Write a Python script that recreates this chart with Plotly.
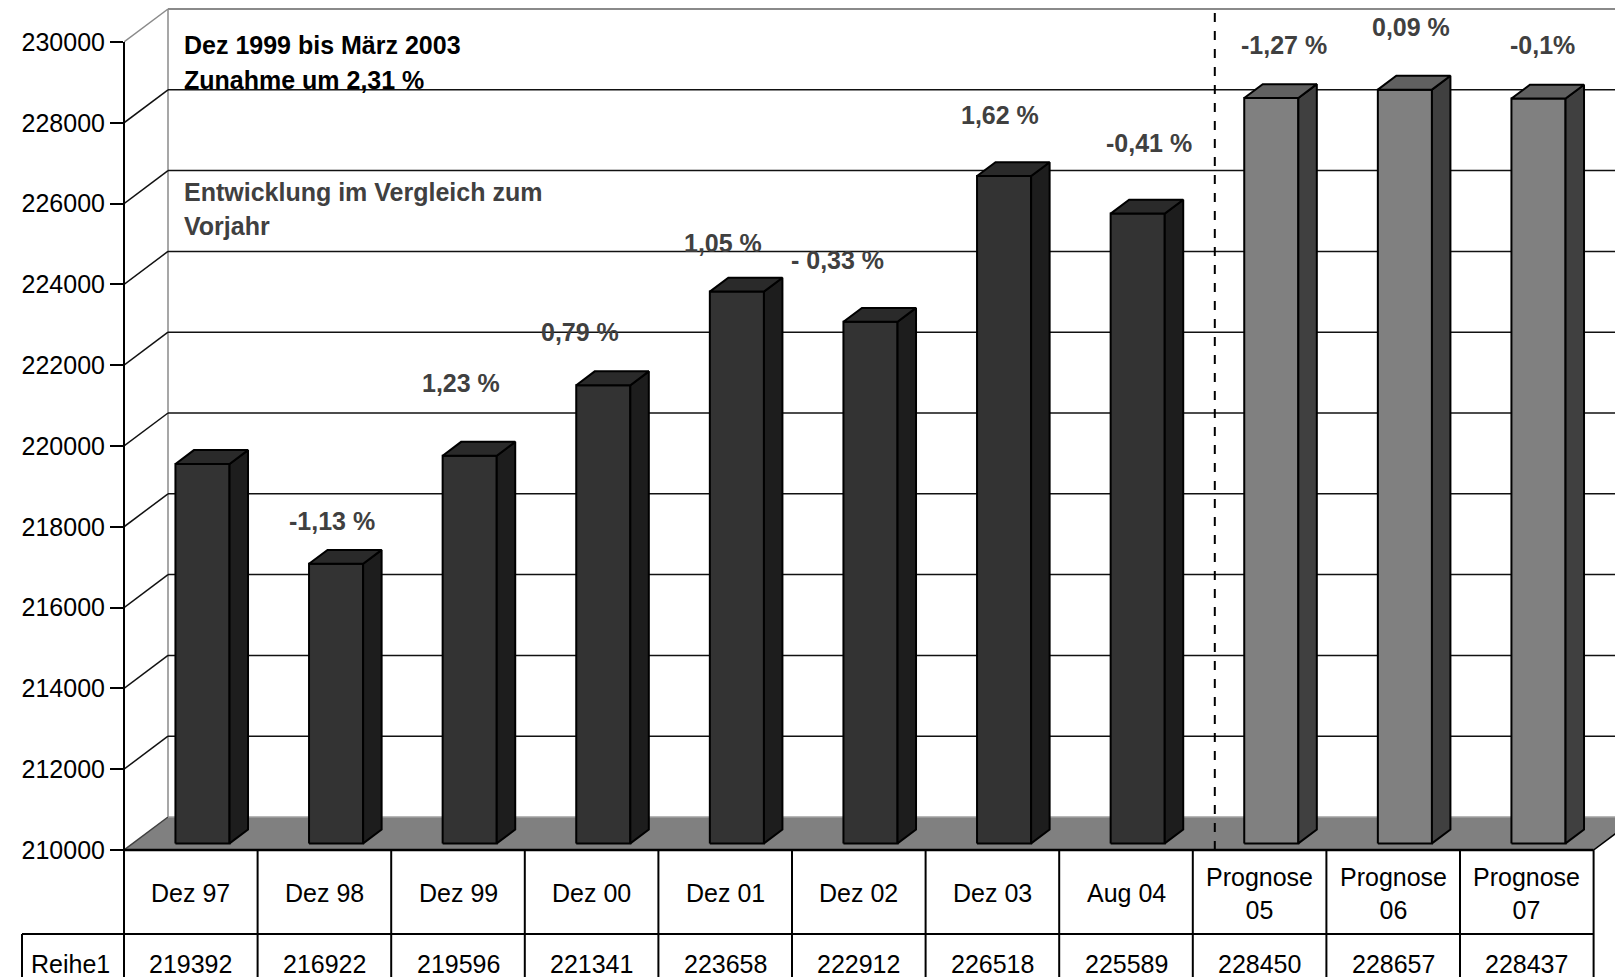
import plotly.graph_objects as go

# Data
categories = ["Dez 97", "Dez 98", "Dez 99", "Dez 00", "Dez 01", "Dez 02", "Dez 03", "Aug 04",
              "Prognose<br>05", "Prognose<br>06", "Prognose<br>07"]
values = [219392, 216922, 219596, 221341, 223658, 222912, 226518, 225589, 228450, 228657, 228437]
is_forecast = [False] * 8 + [True] * 3
series_name = "Reihe1"
changes = ["", "-1,13 %", "1,23 %", "0,79 %", "1,05 %", "- 0,33 %", "1,62 %", "-0,41 %",
           "-1,27 %", "0,09 %", "-0,1%"]
y_ticks = list(range(210000, 230001, 2000))

# where the change labels sit (category units / axis values)
change_x = [None, 1.56, 2.52, 3.41, 4.48, 5.34, 6.56, 7.67, 8.68, 9.63, 10.62]
change_y = [None, 218140, 221560, 222820, 225030, 224600, 228190, 227500, 229930, 230370, 229930]

FONT = "Arial, Liberation Sans, sans-serif"
FS = 25

# Page geometry (the page body adds an 8px offset around the figure)
OFF = 8
PAGE_W, PAGE_H = 1623, 977
W, H = PAGE_W - OFF, PAGE_H - OFF
PLOT_L, PLOT_T, PLOT_B = 124, 8, 850      # page pixels
ML, MR, MT, MB = PLOT_L - OFF, 0, PLOT_T - OFF, PAGE_H - PLOT_B
PW, PH = W - ML - MR, H - MT - MB
COL_PX = 133.6               # pixels per category
VAL_PX = 808 / 20000         # pixels per value unit
X_MAX = PW / COL_PX
Y0, Y1 = y_ticks[0], y_ticks[-1]
Y_TOP = Y0 + PH / VAL_PX

# 3D depth offsets (axis units)
DX = 44 / COL_PX
DV = 33 / VAL_PX


def py_paper(py):
  # page pixel row -> paper y
  return (PLOT_B - py) / PH


def px_paper(px):
  return (px - PLOT_L) / PW


fig = go.Figure()

# Bars drawn as filled faces
f1, f2 = 0.2, 0.62
ddx, ddv = (f2 - f1) * DX, (f2 - f1) * DV
faces = {}
for i, v in enumerate(values):
  x0 = i + 0.385
  x1 = i + 0.79
  base = Y0 + f1 * DV
  top = v + f1 * DV
  key = "fc" if is_forecast[i] else "hist"
  polys = faces.setdefault(key, {"front": [], "side": [], "top": []})
  polys["front"].append([(x0, base), (x1, base), (x1, top), (x0, top), (x0, base)])
  polys["side"].append([(x1, base), (x1 + ddx, base + ddv), (x1 + ddx, top + ddv), (x1, top), (x1, base)])
  polys["top"].append([(x0, top), (x1, top), (x1 + ddx, top + ddv), (x0 + ddx, top + ddv), (x0, top)])

colors = {
  "hist": {"front": "#333333", "side": "#1d1d1d", "top": "#2a2a2a"},
  "fc": {"front": "#808080", "side": "#404040", "top": "#606060"},
}
for key, polys in faces.items():
  for part in ["front", "side", "top"]:
    xs, ys = [], []
    for poly in polys[part]:
      xs += [p[0] for p in poly] + [None]
      ys += [p[1] for p in poly] + [None]
    fig.add_trace(go.Scatter(
      x=xs, y=ys, mode="lines", fill="toself",
      fillcolor=colors[key][part],
      line=dict(color="black", width=2),
      hoverinfo="skip", showlegend=False))

shapes = []
# Floor
shapes.append(dict(type="path", xref="x", yref="y", layer="below",
                   path=f"M 0,{Y0} L 11,{Y0} L {11 + DX},{Y0 + DV} L {DX},{Y0 + DV} Z",
                   fillcolor="#808080", line=dict(width=0)))
shapes.append(dict(type="line", xref="x", yref="y", layer="below", x0=0, y0=Y0, x1=DX, y1=Y0 + DV,
                   line=dict(color="#404040", width=1.5)))
shapes.append(dict(type="line", xref="x", yref="y", layer="below", x0=DX, y0=Y0 + DV, x1=X_MAX + 1, y1=Y0 + DV,
                   line=dict(color="#a0a0a0", width=1.5)))
shapes.append(dict(type="line", xref="x", yref="y", layer="below", x0=11, y0=Y0, x1=11 + DX, y1=Y0 + DV,
                   line=dict(color="black", width=1.5)))
# Walls
shapes.append(dict(type="line", xref="x", yref="y", layer="below", x0=DX, y0=Y0 + DV, x1=DX, y1=Y1 + DV,
                   line=dict(color="#8a8a8a", width=1.5)))
shapes.append(dict(type="line", xref="x", yref="y", layer="below", x0=DX, y0=Y1 + DV, x1=X_MAX + 1, y1=Y1 + DV,
                   line=dict(color="#8a8a8a", width=2)))
shapes.append(dict(type="line", xref="x", yref="y", layer="below", x0=0, y0=Y1, x1=DX, y1=Y1 + DV,
                   line=dict(color="#8a8a8a", width=1.5)))
for v in y_ticks[1:-1]:
  shapes.append(dict(type="line", xref="x", yref="y", layer="below", x0=0, y0=v, x1=DX, y1=v + DV,
                     line=dict(color="#111111", width=1.5)))
  shapes.append(dict(type="line", xref="x", yref="y", layer="below", x0=DX, y0=v + DV, x1=X_MAX + 1, y1=v + DV,
                     line=dict(color="#111111", width=1.5)))
# Forecast separator
sep_x = 8 + 0.5 * DX
shapes.append(dict(type="line", xref="x", yref="y", layer="below", x0=sep_x, y0=Y0, x1=sep_x, y1=Y_TOP,
                   line=dict(color="black", width=2, dash="dash")))

# Y axis line (from 210000 to 230000, then down through the table)
y_top_paper = (Y1 - Y0) / (Y_TOP - Y0)
bottom = py_paper(PAGE_H + 5)
shapes.append(dict(type="line", xref="paper", yref="paper", x0=0, y0=bottom, x1=0, y1=y_top_paper,
                   line=dict(color="black", width=2)))

# Data table grid
row_line = py_paper(934)
left_cell = px_paper(22)
shapes.append(dict(type="line", xref="x", yref="paper", x0=0, y0=0, x1=11, y1=0,
                   line=dict(color="black", width=2.5)))
shapes.append(dict(type="line", xref="x", yref="paper", x0=0, y0=row_line, x1=11, y1=row_line,
                   line=dict(color="black", width=2)))
shapes.append(dict(type="line", xref="paper", yref="paper", x0=left_cell, y0=row_line, x1=0, y1=row_line,
                   line=dict(color="black", width=2)))
shapes.append(dict(type="line", xref="paper", yref="paper", x0=left_cell, y0=row_line, x1=left_cell, y1=bottom,
                   line=dict(color="black", width=2)))
for i in range(1, len(categories) + 1):
  shapes.append(dict(type="line", xref="x", yref="paper", x0=i, y0=0, x1=i, y1=bottom,
                     line=dict(color="black", width=2)))

annotations = []
for i, c in enumerate(categories):
  annotations.append(dict(x=i + 0.5, y=py_paper(893), xref="x", yref="paper", text=c,
                          showarrow=False, font=dict(size=FS, color="black", family=FONT),
                          xanchor="center", yanchor="middle"))
  annotations.append(dict(x=i + 0.5, y=py_paper(964), xref="x", yref="paper", text=str(values[i]),
                          showarrow=False, font=dict(size=FS, color="black", family=FONT),
                          xanchor="center", yanchor="middle"))
annotations.append(dict(x=px_paper(70), y=py_paper(964), xref="paper", yref="paper", text=series_name,
                        showarrow=False, font=dict(size=FS, color="black", family=FONT),
                        xanchor="center", yanchor="middle"))

for i, t in enumerate(changes):
  if not t:
    continue
  annotations.append(dict(x=change_x[i], y=change_y[i], xref="x", yref="y", text=f"<b>{t}</b>",
                          showarrow=False, font=dict(size=FS, color="#404040", family=FONT),
                          xanchor="center", yanchor="middle"))

notes = [("Dez 1999 bis März 2003", 45, "black"), ("Zunahme um 2,31 %", 80, "black"),
         ("Entwicklung im Vergleich zum", 192, "#404040"), ("Vorjahr", 226, "#404040")]
for text, py, col in notes:
  annotations.append(dict(x=px_paper(182), y=py_paper(py), xref="paper", yref="paper",
                          text=f"<b>{text}</b>", showarrow=False,
                          font=dict(size=FS, color=col, family=FONT),
                          xanchor="left", yanchor="middle"))

fig.update_layout(
  width=W, height=H,
  margin=dict(l=ML, r=MR, t=MT, b=MB, pad=0),
  paper_bgcolor="white", plot_bgcolor="white",
  shapes=shapes, annotations=annotations,
  showlegend=False,
  font=dict(family=FONT, size=FS, color="black"),
  xaxis=dict(range=[0, X_MAX], visible=False, fixedrange=True),
  yaxis=dict(range=[Y0, Y_TOP], tickvals=y_ticks, tickformat="d",
             ticks="outside", ticklen=13, tickwidth=1.5, tickcolor="black",
             showgrid=False, zeroline=False, showline=False,
             tickfont=dict(size=FS, color="black", family=FONT), fixedrange=True),
)

fig.write_html("out.html")
